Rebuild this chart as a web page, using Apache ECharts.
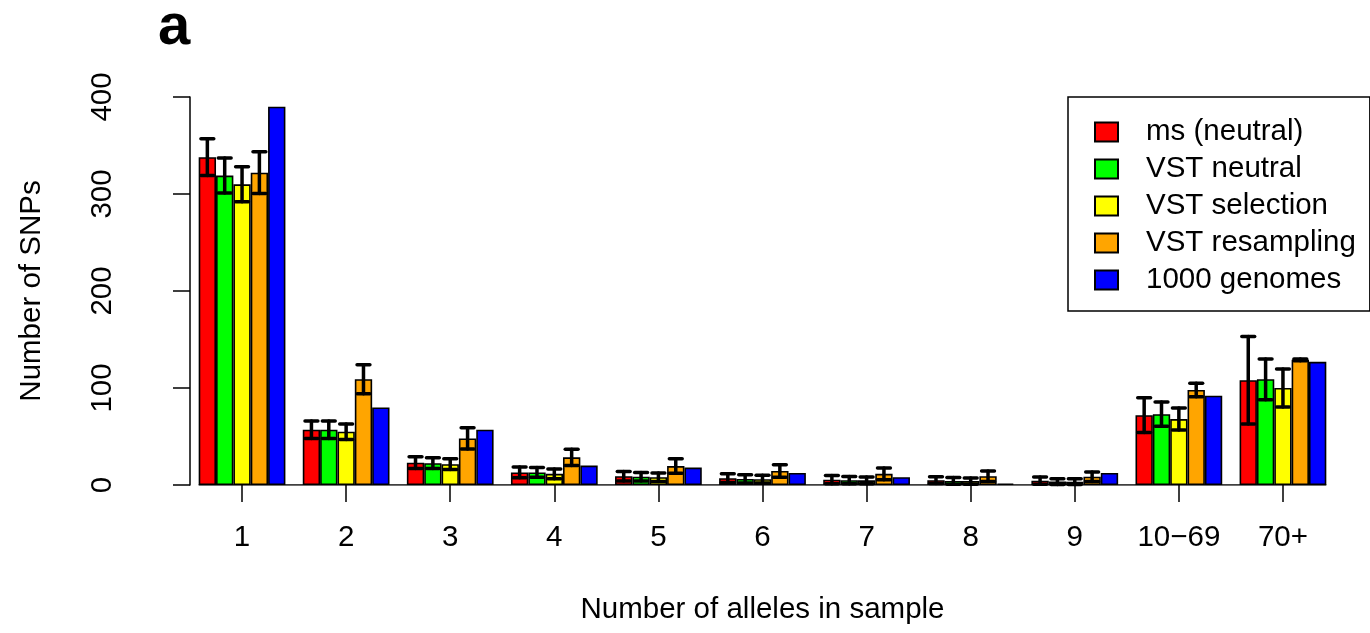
<!DOCTYPE html>
<html>
<head>
<meta charset="utf-8">
<script src="https://cdn.jsdelivr.net/npm/echarts@6/dist/echarts.min.js"></script>
<style>html,body{margin:0;padding:0;background:#fff}#c{width:1370px;height:633px}</style>
</head>
<body>
<div id="c"></div>
<script>
const categories = ['1','2','3','4','5','6','7','8','9','10\u221269','70+'];
const seriesNames = ['ms (neutral)','VST neutral','VST selection','VST resampling','1000 genomes'];
const colors = ['#FF0000','#00FF00','#FFFF00','#FFA500','#0000FF'];
const msNeutral     = [338, 57, 23, 13, 9, 7, 5.5, 5, 4.5, 72, 108];
const msNeutralErr  = [19, 9, 6, 5.5, 5, 4.5, 4.3, 3.5, 3.7, 18, 45];
const vstNeutral    = [319, 57, 22.5, 13, 8.5, 6.3, 5, 4.2, 3.5, 73, 109];
const vstNeutralErr = [18, 9, 5.5, 5, 4.5, 4.2, 3.8, 3.5, 3, 12.5, 21];
const vstSelection    = [310, 55, 21.5, 11.5, 8, 6, 4.8, 4, 3.4, 68, 100];
const vstSelectionErr = [18, 8, 5.5, 5, 4.5, 4, 3.5, 3.3, 3, 11.3, 19.5];
const vstResampling    = [322, 109, 48, 28.5, 19.5, 14.5, 11.5, 9, 8.5, 98, 129];
const vstResamplingErr = [21.5, 15, 11, 8.3, 7.5, 6.5, 6, 5.5, 5, 7, 1];
const genomes1000 = [390, 80, 57, 20, 18, 12.5, 8, 1.5, 12.5, 92, 127];
const yTicks = [0, 100, 200, 300, 400];

const values = [msNeutral, vstNeutral, vstSelection, vstResampling, genomes1000];
const errs = [msNeutralErr, vstNeutralErr, vstSelectionErr, vstResamplingErr];

const FONT = 'Liberation Sans, Arial, Helvetica, sans-serif';
const chart = echarts.init(document.getElementById('c'), null, {renderer: 'canvas'});

const errData = [];
errs.forEach((arr, j) => arr.forEach((e, i) => {
  errData.push([i, j, values[j][i] - e, values[j][i] + e]);
}));

const barSeries = seriesNames.map((n, j) => ({
  name: n, type: 'bar', data: values[j],
  barGap: '0%', barCategoryGap: (100/6) + '%',
  itemStyle: {color: colors[j], borderColor: '#000', borderWidth: 1.6},
  emphasis: {disabled: true}, z: 2
}));

chart.setOption({
  animation: false,
  backgroundColor: '#fff',
  textStyle: {fontFamily: FONT},
  title: {text: 'a', left: 153, top: -6,
    textStyle: {fontFamily: FONT, fontSize: 58, fontWeight: 'bold', color: '#000'}},
  grid: {left: 190, right: 35, top: 97, bottom: 148},
  legend: {
    data: seriesNames, orient: 'vertical', left: 1068, top: 97,
    backgroundColor: '#fff', borderColor: '#000', borderWidth: 1.5,
    padding: [20, 14, 16, 26], itemWidth: 23, itemHeight: 19, itemGap: 7,
    icon: 'rect', selectedMode: false,
    textStyle: {fontFamily: FONT, fontSize: 29.5, color: '#000', lineHeight: 30, padding: [0, 0, 0, 23]}
  },
  xAxis: [{
    type: 'category', data: categories,
    axisLine: {show: false},
    axisTick: {show: true, alignWithLabel: true, interval: 0, length: 17, lineStyle: {color: '#000', width: 1.5}},
    axisLabel: {fontFamily: FONT, fontSize: 29.5, color: '#000', margin: 38, interval: 0},
    name: 'Number of alleles in sample', nameLocation: 'middle', nameGap: 110,
    nameTextStyle: {fontFamily: FONT, fontSize: 29.5, color: '#000'}
  }, {
    type: 'value', min: 0, max: 11, show: false
  }],
  yAxis: {
    type: 'value', min: 0, max: 400, interval: 100, offset: 37,
    axisLine: {show: true, lineStyle: {color: '#000', width: 1.5}},
    axisTick: {show: true, length: 17, lineStyle: {color: '#000', width: 1.5}},
    axisLabel: {fontFamily: FONT, fontSize: 29.5, color: '#000', rotate: 90, margin: 35,
      formatter: v => yTicks.includes(v) ? String(v) : ''},
    splitLine: {show: false},
    name: 'Number of SNPs', nameLocation: 'middle', nameGap: 106,
    nameTextStyle: {fontFamily: FONT, fontSize: 29.5, color: '#000'}
  },
  series: barSeries.concat([{
    type: 'line', xAxisIndex: 1, data: [[1/12, 0], [11 - 1/12, 0]],
    symbol: 'none', lineStyle: {color: '#000', width: 1.5}, z: 3, silent: true
  }, {
    type: 'custom', data: errData, z: 10, silent: true,
    encode: {x: 0, y: [2, 3]},
    renderItem: (params, api) => {
      const cat = api.value(0), j = api.value(1);
      const lo = api.coord([cat, api.value(2)]);
      const hi = api.coord([cat, api.value(3)]);
      const bw = api.size([1, 0])[0] / 6;
      const x = lo[0] + (j - 2) * bw;
      const h = bw * 0.37;
      const st = {stroke: '#000', lineWidth: 3.5, lineCap: 'round'};
      return {type: 'group', children: [
        {type: 'line', shape: {x1: x, y1: lo[1], x2: x, y2: hi[1]}, style: st},
        {type: 'line', shape: {x1: x - h, y1: lo[1], x2: x + h, y2: lo[1]}, style: st},
        {type: 'line', shape: {x1: x - h, y1: hi[1], x2: x + h, y2: hi[1]}, style: st}
      ]};
    }
  }])
});
</script>
</body>
</html>
